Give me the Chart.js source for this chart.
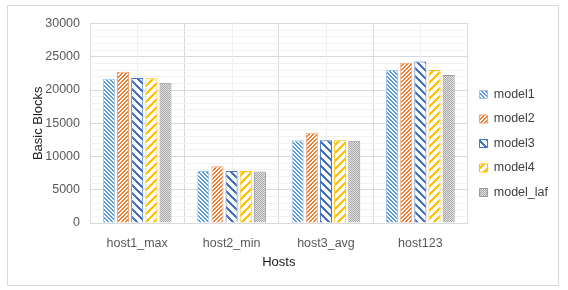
<!DOCTYPE html>
<html>
<head>
<meta charset="utf-8">
<script src="https://cdn.jsdelivr.net/npm/chart.js@4"></script>
<style>
  body { margin: 0; background: #fff; }
  #box { position: absolute; left: 7px; top: 5px; width: 550px; height: 279px; border: 1px solid #d9d9d9; }
</style>
</head>
<body>
<div id="box"><canvas id="hostChart"></canvas></div>
<script>
// chart data
const categories = ["host1_max", "host2_min", "host3_avg", "host123"];
const model1 = [21700, 7830, 12450, 23000];
const model2 = [22750, 8520, 13590, 24080];
const model3 = [21800, 7830, 12450, 24280];
const model4 = [21750, 7830, 12450, 23000];
const modelLaf = [21100, 7730, 12360, 22260];
const yMax = 30000;
const yMajorStep = 5000;
const yMinorStep = 1000;

// small bitmap fill patterns like excel's hatch fills
function makePattern(color, bg, size, test) {
  const c = document.createElement("canvas");
  c.width = size; c.height = size;
  const g = c.getContext("2d");
  g.fillStyle = bg;
  g.fillRect(0, 0, size, size);
  g.fillStyle = color;
  for (let x = 0; x < size; x++) {
    for (let y = 0; y < size; y++) {
      if (test(x, y)) g.fillRect(x, y, 1, 1);
    }
  }
  return c.getContext("2d").createPattern(c, "repeat");
}

const ctx = document.getElementById("hostChart").getContext("2d");
const pat1 = makePattern("#5B9BD5", "#fff", 4, (x, y) => (x - y + 4) % 4 < 2);
const pat2 = makePattern("#ED7D31", "#fff", 4, (x, y) => (x + y) % 4 < 2);
const pat3 = makePattern("#4472C4", "#fff", 8, (x, y) => (x - y + 8) % 8 < 3);
const pat4 = makePattern("#FFC000", "#fff", 8, (x, y) => (x + y) % 8 < 3);
const patLaf = makePattern("#A5A5A5", "#e4e4e4", 2, (x, y) => (x + y) % 2 === 0);

// light vertical lines at the middle of each category
const centerLines = {
  id: "centerLines",
  beforeDatasetsDraw(chart) {
    const xs = chart.scales.x, area = chart.chartArea, g = chart.ctx;
    g.save();
    g.strokeStyle = "#f0f0f0";
    g.lineWidth = 1;
    categories.forEach((c, i) => {
      const px = Math.round(xs.getPixelForValue(i)) + 0.5;
      g.beginPath();
      g.moveTo(px, area.top);
      g.lineTo(px, area.bottom);
      g.stroke();
    });
    g.restore();
  }
};

function ds(label, data, fill, border) {
  return { label: label, data: data, backgroundColor: fill, borderColor: border, borderWidth: 1 };
}

new Chart(ctx, {
  type: "bar",
  data: {
    labels: categories,
    datasets: [
      ds("model1", model1, pat1, "#9dc3e6"),
      ds("model2", model2, pat2, "#f0a070"),
      ds("model3", model3, pat3, "#4472C4"),
      ds("model4", model4, pat4, "#FFC000"),
      ds("model_laf", modelLaf, patLaf, "#999999"),
    ],
  },
  options: {
    responsive: true,
    maintainAspectRatio: false,
    animation: false,
    categoryPercentage: 0.75,
    barPercentage: 0.85,
    layout: { padding: { left: 19, right: 0, top: 8, bottom: 12 } },
    plugins: {
      legend: {
        position: "right",
        labels: {
          boxWidth: 8,
          boxHeight: 8,
          padding: 12,
          color: "#404040",
          font: { family: "Liberation Sans", size: 12.5 },
        },
      },
      tooltip: { enabled: false },
    },
    scales: {
      x: {
        afterFit: (s) => { s.height = 50; },
        grid: { color: "#d9d9d9", drawTicks: false, offset: true },
        border: { color: "#d9d9d9" },
        ticks: { padding: 13, color: "#595959", font: { family: "Liberation Sans", size: 12.5 } },
        title: { display: true, text: "Hosts", color: "#1a1a1a", padding: { top: 4, bottom: 3 }, font: { family: "Liberation Sans", size: 13 } },
      },
      y: {
        min: 0,
        max: yMax,
        afterFit: (s) => { s.width = 63; },
        grid: {
          drawTicks: false,
          color: (c) => (c.tick && c.tick.value % yMajorStep === 0 ? "#d9d9d9" : "#f2f2f2"),
        },
        border: { display: false },
        ticks: {
          stepSize: yMinorStep,
          autoSkip: false,
          padding: 10,
          color: "#595959",
          font: { family: "Liberation Sans", size: 12.5 },
          callback: (v) => (v % yMajorStep === 0 ? v : ""),
        },
        title: { display: true, text: "Basic Blocks", color: "#262626", font: { family: "Liberation Sans", size: 13 } },
      },
    },
  },
  plugins: [centerLines],
});
</script>
</body>
</html>
